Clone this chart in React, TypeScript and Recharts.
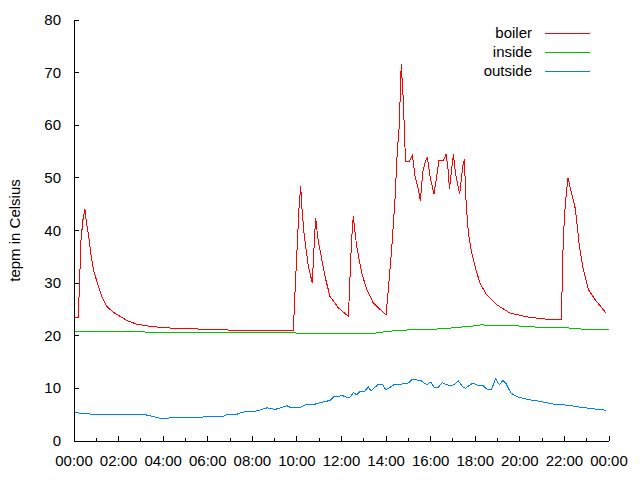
import React from 'react';
import { LineChart, Line, XAxis, YAxis } from 'recharts';

// boiler temperature, hours since midnight
const boilerTime = [
  0, 0.19, 0.25, 0.31, 0.4, 0.49, 0.56, 0.64, 0.76, 0.87, 1.09, 1.26, 1.47, 1.75, 2.06, 2.42, 2.81, 3.41, 4.1, 5.43,
  7.57, 9.84, 9.91, 10.02, 10.09, 10.17, 10.23, 10.32, 10.51, 10.61, 10.69, 10.77, 10.84, 10.94, 11.03, 11.26, 11.48,
  11.86, 12.31, 12.38, 12.45, 12.53, 12.68, 12.91, 13.13, 13.43, 13.73, 14.0, 14.1, 14.25, 14.4, 14.5, 14.59, 14.68,
  14.77, 14.85, 14.89, 15.04, 15.18, 15.3, 15.45, 15.54, 15.64, 15.75, 15.85, 15.97, 16.15, 16.27, 16.37, 16.57, 16.69,
  16.79, 16.84, 17.02, 17.12, 17.3, 17.44, 17.51, 17.59, 17.69, 17.84, 17.99, 18.21, 18.51, 18.96, 19.56, 20.31, 21.05,
  21.85, 21.88, 21.95, 22.04, 22.16, 22.28, 22.48, 22.58, 22.67, 22.82, 23.07, 23.37, 23.85,
];
const boilerTemp = [
  23.5, 23.5, 30, 38, 42, 44, 41.5, 39.5, 35.5, 32.6, 29.4, 27.3, 25.6, 24.5, 23.7, 22.8, 22.2, 21.8, 21.5, 21.3,
  21.0, 21.0, 28, 37.6, 44, 48.4, 44, 39.5, 33.2, 31.5, 30.0, 37, 42.4, 38.5, 36.4, 31.3, 27.5,
  25.3, 23.7, 31, 38, 42.7, 37, 31.9, 28.8, 26.2, 25.0, 24.0, 28.8, 36.4, 45.9, 54.8, 59.9, 71.6,
  65, 55.7, 53.2, 53.2, 54.3, 50.3, 47.8, 45.6, 51, 52.9, 54, 50.3, 46.9, 50.3, 53.3, 53.3, 54.5,
  51.3, 47.9, 54.5, 50.7, 46.9, 52.3, 53.5, 45.3, 39.6, 35.8, 33.2, 30.0, 27.8, 25.9, 24.3, 23.6, 23.2,
  23.0, 26.2, 38.6, 45, 50, 47.8, 44.3, 40.8, 37, 33.2, 28.8, 26.9, 24.4,
];

const insideTime = [
  0, 0.3, 3.1, 3.2, 6.2, 6.3, 7.5, 8.5, 9.8, 10.1, 10.5, 11, 11.5, 13.5, 14.0, 14.5, 15.0, 16.0, 17.0, 17.5, 18.0,
  18.3, 18.6, 19.6, 19.8, 20.0, 21.0, 22.0, 22.7, 22.8, 24,
];
const insideTemp = [
  20.7, 20.9, 20.9, 20.7, 20.7, 20.6, 20.6, 20.7, 20.7, 20.4, 20.5, 20.4, 20.5, 20.5, 20.8, 21.0, 21.1, 21.2, 21.5,
  21.7, 21.9, 22.1, 21.9, 21.9, 22.0, 21.8, 21.6, 21.5, 21.4, 21.1, 21.1,
];

const outsideTime = [
  0, 0.27, 0.8, 3.07, 3.41, 3.86, 4.22, 4.31, 5.65, 5.88, 6.64, 6.82, 7.22, 7.58, 8.08, 8.34, 8.66, 9.02, 9.56, 9.74,
  10.14, 10.44, 10.81, 11.04, 11.26, 11.49, 11.64, 11.86, 12.01, 12.23, 12.38, 12.53, 12.68, 12.86, 13.05, 13.2, 13.32,
  13.5, 13.65, 13.83, 13.99, 14.17, 14.4, 14.62, 14.8, 14.99, 15.19, 15.37, 15.59, 15.82, 16.01, 16.16, 16.34, 16.52,
  16.72, 16.9, 17.09, 17.24, 17.44, 17.57, 17.77, 17.91, 18.13, 18.35, 18.57, 18.72, 18.91, 19.08, 19.24, 19.37, 19.6,
  19.9, 20.35, 20.95, 21.54, 22.14, 22.74, 23.33, 23.85,
];
const outsideTemp = [
  5.5, 5.3, 5.1, 5.1, 4.8, 4.3, 4.3, 4.5, 4.5, 4.6, 4.6, 4.95, 4.95, 5.5, 5.6, 5.9, 6.3, 6.0, 6.7, 6.3,
  6.4, 7.0, 7.0, 7.3, 7.5, 7.7, 8.4, 8.4, 8.7, 8.3, 8.3, 9.2, 8.8, 9.5, 9.5, 10.3, 9.5,
  10.2, 10.8, 10.8, 9.7, 10.2, 10.8, 10.7, 11.0, 11.0, 11.75, 11.6, 11.4, 10.7, 11.2, 10.2, 10.2, 11.1,
  10.7, 10.5, 10.8, 11.4, 10.3, 10.0, 10.7, 11.0, 10.5, 10.5, 9.7, 9.7, 11.8, 10.7, 11.5, 11.0, 9.1,
  8.4, 7.9, 7.5, 7.0, 6.8, 6.4, 6.1, 5.85,
];

const hourTicks = [0, 1, 2, 3, 4, 5, 6, 7, 8, 9, 10, 11, 12, 13, 14, 15, 16, 17, 18, 19, 20, 21, 22, 23, 24];
const tempTicks = [0, 10, 20, 30, 40, 50, 60, 70, 80];

const seriesNames = ['boiler', 'inside', 'outside'];
const seriesColors = ['#ff0000', '#00c000', '#0080ff'];

const toPoints = (ts: number[], vs: number[]) => ts.map((t, i) => ({ t, v: vs[i] }));
const seriesData = [
  toPoints(boilerTime, boilerTemp),
  toPoints(insideTime, insideTemp),
  toPoints(outsideTime, outsideTemp),
];

const FONT = '"Liberation Sans", Arial, sans-serif';
const hourLabel = (h: number) => String(h % 24).padStart(2, '0') + ':00';

const BottomTick = (props: any) => {
  const { x, y, payload } = props;
  const major = payload.value % 2 === 0;
  return (
    <g>
      <line x1={x} x2={x} y1={y} y2={y - (major ? 5 : 3)} stroke="#000" />
      {major && (
        <text x={x} y={y + 25} textAnchor="middle" fontSize={15} fontFamily={FONT} fill="#000">
          {hourLabel(payload.value)}
        </text>
      )}
    </g>
  );
};

const TopTick = (props: any) => {
  const { x, y, payload } = props;
  const major = payload.value % 2 === 0;
  return <line x1={x} x2={x} y1={y} y2={y + (major ? 5 : 3)} stroke="#000" />;
};

const LeftTick = (props: any) => {
  const { x, y, payload } = props;
  return (
    <g>
      <line x1={x} x2={x + 5} y1={y} y2={y} stroke="#000" />
      <text x={x - 13} y={y + 5} textAnchor="end" fontSize={15} fontFamily={FONT} fill="#000">
        {payload.value}
      </text>
    </g>
  );
};

const RightTick = (props: any) => {
  const { x, y } = props;
  return <line x1={x} x2={x - 5} y1={y} y2={y} stroke="#000" />;
};

const YTitle = (props: any) => {
  const { viewBox } = props;
  const cy = viewBox.y + viewBox.height / 2;
  return (
    <text
      x={14}
      y={cy}
      transform={`rotate(-90, 14, ${cy})`}
      textAnchor="middle"
      dominantBaseline="central"
      fontSize={15}
      fontFamily={FONT}
      fill="#000"
    >
      tepm in Celsius
    </text>
  );
};

export default function App() {
  return (
    <div style={{ position: 'absolute', left: 0, top: 0, width: 640, height: 480, background: '#fff' }}>
      {/* gnuplot's png output is not antialiased */}
      <style>{'.recharts-wrapper path, .recharts-wrapper line, svg line { shape-rendering: crispEdges; }'}</style>
      <LineChart width={640} height={480} margin={{ top: 20, right: 31, bottom: 0, left: 0 }}>
        <XAxis
          xAxisId="bottom"
          dataKey="t"
          type="number"
          domain={[0, 24]}
          ticks={hourTicks}
          interval={0}
          height={39}
          tickSize={0}
          tickMargin={0}
          tickLine={false}
          axisLine={{ stroke: '#000' }}
          tick={<BottomTick />}
        />
        <XAxis
          xAxisId="top"
          orientation="top"
          type="number"
          domain={[0, 24]}
          ticks={hourTicks}
          interval={0}
          height={0}
          tickSize={0}
          tickMargin={0}
          tickLine={false}
          axisLine={{ stroke: '#000' }}
          tick={<TopTick />}
        />
        <YAxis
          yAxisId="left"
          type="number"
          domain={[0, 80]}
          ticks={tempTicks}
          interval={0}
          width={74}
          tickSize={0}
          tickMargin={0}
          tickLine={false}
          axisLine={{ stroke: '#000' }}
          tick={<LeftTick />}
          label={{ content: <YTitle /> }}
        />
        <YAxis
          yAxisId="right"
          orientation="right"
          type="number"
          domain={[0, 80]}
          ticks={tempTicks}
          interval={0}
          width={0}
          tickSize={0}
          tickMargin={0}
          tickLine={false}
          axisLine={{ stroke: '#000' }}
          tick={<RightTick />}
        />
        {seriesNames.map((name, i) => (
          <Line
            key={name}
            xAxisId="bottom"
            yAxisId="left"
            data={seriesData[i]}
            dataKey="v"
            name={name}
            type="linear"
            stroke={seriesColors[i]}
            strokeWidth={1}
            dot={false}
            activeDot={false}
            isAnimationActive={false}
          />
        ))}
      </LineChart>
      <svg width={640} height={480} style={{ position: 'absolute', left: 0, top: 0, pointerEvents: 'none' }}>
        {seriesNames.map((name, i) => (
          <g key={name}>
            <text x={532} y={38 + i * 19} textAnchor="end" fontSize={15} fontFamily={FONT} fill="#000">
              {name}
            </text>
            <line x1={545} x2={590} y1={33 + i * 19} y2={33 + i * 19} stroke={seriesColors[i]} />
          </g>
        ))}
      </svg>
    </div>
  );
}
